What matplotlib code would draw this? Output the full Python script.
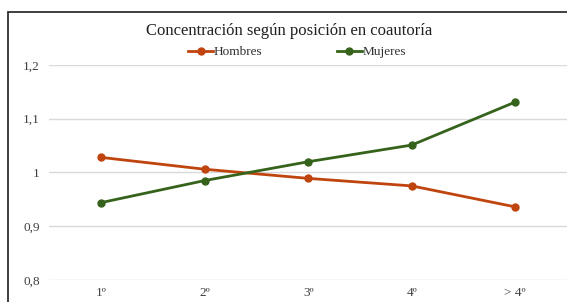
import matplotlib.pyplot as plt
from matplotlib.patches import Rectangle

categories = ["1º", "2º", "3º", "4º", "> 4º"]
hombres = [1.028, 1.006, 0.989, 0.975, 0.936]
mujeres = [0.944, 0.985, 1.020, 1.051, 1.131]
yticks = [0.8, 0.9, 1.0, 1.1, 1.2]
ytick_labels = ["0,8", "0,9", "1", "1,1", "1,2"]

plt.rcParams['font.family'] = ['Liberation Serif', 'DejaVu Serif']

fig = plt.figure(figsize=(5.67, 3.02), dpi=100)
ax = fig.add_axes([0.0873, 0.0728, 0.9127, 0.7122])

x = range(len(categories))
ax.plot(x, hombres, color='#C0440E', lw=2.0, marker='o', ms=5, label='Hombres')
ax.plot(x, mujeres, color='#36631B', lw=2.0, marker='o', ms=5, label='Mujeres')

ax.set_xlim(-0.5, len(categories) - 0.5)
ax.set_ylim(0.8, 1.2)
ax.set_yticks(yticks)
ax.set_yticklabels(ytick_labels)
ax.set_xticks(list(x))
ax.set_xticklabels(categories)
ax.tick_params(axis='both', length=0, labelsize=9.5, colors='#404040')
ax.tick_params(axis='y', pad=7)
ax.tick_params(axis='x', pad=5)
ax.grid(axis='y', color='#d9d9d9', lw=1.0)
ax.set_axisbelow(True)
for s in ax.spines.values():
    s.set_visible(False)

fig.text(289 / 567, 1 - 31 / 302, "Concentración según posición en coautoría",
         ha='center', va='center', fontsize=12, color='#202020')
fig.legend(loc='center', bbox_to_anchor=(297 / 567, 1 - 52 / 302), ncol=2,
           frameon=False, fontsize=9.5, handlelength=1.9, handletextpad=0.05,
           columnspacing=5.6, labelcolor='#303030')

# outer chart border (cropped at right and bottom)
fig.patches.append(Rectangle((8 / 567, -0.2), 1.2, 1.2 - 12 / 302,
                             transform=fig.transFigure, fill=False,
                             ec='#303030', lw=1.3))

fig.savefig("out.png", dpi=100)
